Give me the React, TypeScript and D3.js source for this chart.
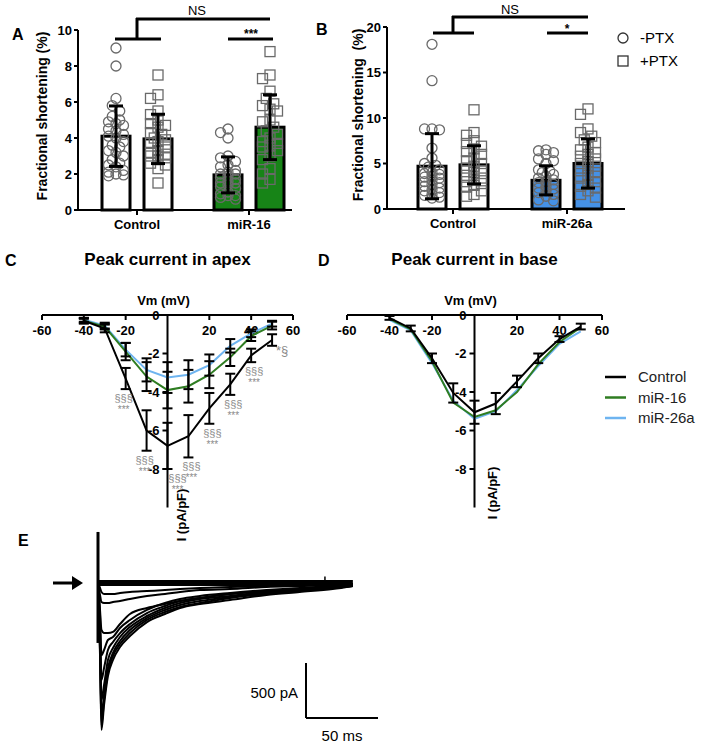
import React from "react";
import * as d3 from "d3";

// ---------------- Panels A / B : fractional shortening ----------------
const groupsA = ["Control", "miR-16"];
const groupsB = ["Control", "miR-26a"];
const ptxKeys = ["-PTX", "+PTX"];
const yTicksA = [0, 2, 4, 6, 8, 10];
const yTicksB = [0, 5, 10, 15, 20];

const meanA = [4.1, 3.95, 1.95, 4.6];
const sdA = [1.68, 1.37, 1.0, 1.8];
const meanB = [4.7, 4.85, 3.15, 5.0];
const sdB = [3.58, 2.1, 1.6, 2.7];

const ptsA_ctrlMinus = [9.0, 8.0, 6.2, 5.8, 5.5, 5.2, 5.0, 4.9, 4.8, 4.7, 4.5, 4.4, 4.2, 4.1, 4.0, 3.8, 3.6, 3.5, 3.3, 3.2, 3.0, 2.8, 2.6, 2.5, 2.4, 2.2, 2.1, 2.0, 1.9, 1.95];
const ptsA_ctrlPlus = [7.5, 6.4, 6.2, 5.5, 5.3, 5.0, 4.8, 4.7, 4.6, 4.3, 4.2, 4.0, 3.9, 3.8, 3.7, 3.5, 3.3, 3.2, 3.1, 3.0, 3.0, 2.9, 2.8, 2.6, 2.5, 2.3, 1.5];
const ptsA_mirMinus = [4.5, 4.3, 4.0, 3.0, 2.9, 2.7, 2.5, 2.4, 2.2, 2.1, 2.0, 2.0, 1.9, 1.8, 1.7, 1.6, 1.5, 1.5, 1.4, 1.3, 1.2, 1.0, 0.9, 0.8, 0.8, 0.7, 0.6];
const ptsA_mirPlus = [8.8, 7.5, 7.3, 6.6, 6.2, 5.9, 5.8, 5.6, 5.5, 5.0, 4.9, 4.6, 4.4, 4.2, 4.0, 3.8, 3.7, 3.6, 3.5, 3.3, 3.0, 2.8, 2.3, 2.0, 1.7, 1.5];

const ptsB_ctrlMinus = [18.1, 14.1, 8.8, 8.8, 8.7, 6.7, 5.6, 5.0, 4.8, 4.6, 4.3, 4.0, 3.9, 3.8, 3.6, 3.5, 3.4, 3.2, 3.0, 2.9, 2.7, 2.5, 2.3, 2.1, 2.0, 1.8, 1.6, 1.5, 1.3, 1.2];
const ptsB_ctrlPlus = [10.9, 8.4, 8.1, 7.5, 7.2, 6.9, 6.6, 6.3, 6.0, 5.6, 5.3, 5.0, 4.7, 4.5, 4.2, 4.0, 3.7, 3.4, 3.2, 3.0, 2.8, 2.6, 2.4, 2.0, 1.6, 1.4];
const ptsB_mirMinus = [6.5, 6.4, 6.2, 6.0, 5.5, 5.3, 5.0, 4.3, 4.2, 4.0, 3.8, 3.6, 3.4, 3.2, 3.0, 2.9, 2.7, 2.5, 2.3, 2.2, 2.0, 1.8, 1.6, 1.4, 1.0, 0.9];
const ptsB_mirPlus = [11.0, 10.4, 8.8, 8.4, 8.0, 7.6, 7.3, 6.8, 6.5, 6.2, 6.0, 5.8, 5.5, 5.2, 5.0, 4.7, 4.5, 4.2, 4.0, 3.7, 3.4, 3.0, 2.7, 2.5, 2.3, 2.0, 1.6, 1.3];

// ---------------- Panels C / D : I-V curves ----------------
const vmSteps = [-40, -30, -20, -10, 0, 10, 20, 30, 40, 50];
const ivXTicks = [-60, -40, -20, 20, 40, 60];
const ivYTicks = [0, -2, -4, -6, -8];
const ivSeries = ["Control", "miR-16", "miR-26a"];

const apexControl = [-0.3, -0.7, -3.3, -6.0, -6.8, -6.3, -4.85, -3.6, -2.1, -1.3];
const apexControlErr = [0.15, 0.2, 0.55, 1.05, 1.2, 1.1, 0.8, 0.55, 0.35, 0.3];
const apexMiR16 = [-0.3, -0.6, -1.9, -3.2, -3.9, -3.7, -3.1, -2.2, -1.1, -0.55];
const apexMiR16Err = [0.1, 0.15, 0.45, 0.75, 0.95, 0.85, 0.7, 0.45, 0.25, 0.2];
const apexMiR26a = [-0.25, -0.55, -1.8, -2.85, -3.25, -3.1, -2.6, -1.6, -0.95, -0.45];
const apexMiR26aErr = [0.1, 0.15, 0.35, 0.6, 0.8, 0.75, 0.55, 0.35, 0.2, 0.15];
const apexSigTop = ["", "", "§§§", "§§§", "§§§", "§§§", "§§§", "§§§", "§§§", "*§"];
const apexSigBottom = ["", "", "***", "***", "***", "***", "***", "***", "***", ""];

const baseControl = [-0.15, -0.7, -2.25, -4.05, -5.05, -4.6, -3.45, -2.25, -1.25, -0.6];
const baseControlErr = [0.1, 0.15, 0.25, 0.5, 0.6, 0.55, 0.3, 0.25, 0.15, 0.15];
const baseMiR16 = [-0.2, -0.75, -2.4, -4.55, -5.3, -4.95, -4.0, -2.55, -1.4, -0.65];
const baseMiR26a = [-0.25, -0.8, -2.5, -4.45, -5.4, -5.0, -3.9, -2.65, -1.5, -0.85];

// ---------------- Panel E : current traces ----------------
const traceTimesMs = [0, 1.4, 2.4, 4.2, 6.9, 10.4, 15.3, 22.2, 34, 46.5, 57, 70.8, 91.7, 117, 140, 163, 177];
const traceS1 = [0, -45, -82, -100, -100, -100, -91, -82, -73, -64, -55, -45, -36, -27, -18, -9, -9];
const traceS2 = [0, -109, -173, -182, -182, -173, -164, -145, -118, -100, -82, -64, -55, -36, -27, -18, -9];
const traceS3 = [0, -245, -427, -455, -455, -445, -373, -282, -227, -191, -164, -136, -100, -73, -55, -36, -18];
const traceD1 = [0, -291, -655, -609, -518, -491, -409, -336, -245, -182, -145, -118, -91, -64, -45, -27, -18];
const traceD2 = [0, -382, -882, -773, -609, -536, -455, -373, -273, -209, -164, -136, -100, -73, -55, -36, -18];
const traceD3 = [0, -473, -1064, -927, -700, -591, -491, -400, -300, -227, -182, -145, -118, -82, -64, -36, -18];
const traceD4 = [0, -564, -1200, -1018, -773, -636, -527, -427, -318, -245, -200, -164, -127, -91, -64, -45, -27];
const traceD5 = [0, -609, -1291, -1064, -809, -664, -555, -455, -336, -264, -218, -182, -136, -100, -73, -45, -27];
const traceD6 = [0, -655, -1336, -1109, -845, -700, -582, -482, -355, -282, -227, -191, -155, -109, -82, -55, -27];
const transientPA = [464, -545];
const artifactMs = 157.6;
const artifactPA = [60, -55];
const scaleBarPA = 500;
const scaleBarMs = 50;

const FONT = "'Liberation Sans', Arial, Helvetica, sans-serif";
const GREEN_BAR = "#178417";
const BLUE_BAR = "#4591e6";
const GREEN_LINE = "#2f7d22";
const BLUE_LINE = "#6eb4f0";
const DOT_STROKE = "#6a6a6a";
const SIG_GRAY = "#8a8a8a";

function swarmOffsets(values: number[], y: (v: number) => number, r: number, maxOff: number) {
  const order = values.map((v, i) => ({ v, i })).sort((a, b) => b.v - a.v);
  const placed: { x: number; y: number }[] = [];
  const res: number[] = new Array(values.length).fill(0);
  const cands = [0, -1, 1, -2, 2, -3, 3, -4, 4].map((k) => k * r * 0.75).filter((c) => Math.abs(c) <= maxOff);
  const minD = 2 * r * 0.75;
  for (const { v, i } of order) {
    const py = y(v);
    let best = 0;
    let bestOv = Infinity;
    for (const c of cands) {
      let ov = 0;
      for (const p of placed) {
        const d = Math.hypot(p.x - c, p.y - py);
        if (d < minD) ov += minD - d;
      }
      if (ov < bestOv - 1e-6) {
        bestOv = ov;
        best = c;
      }
      if (ov === 0) break;
    }
    placed.push({ x: best, y: py });
    res[i] = best;
  }
  return res;
}

type BarCfg = {
  groups: string[];
  yDomain: [number, number];
  yRange: [number, number];
  yTicks: number[];
  groupRange: [number, number];
  axisX: number;
  axisEnd: number;
  means: number[];
  sds: number[];
  points: number[][];
  fills: string[];
  yLabel: string;
  yLabelX: number;
  yLabelY: number;
  tickLabelEnd: number;
};

function BarPanel({ cfg }: { cfg: BarCfg }) {
  const y = d3.scaleLinear().domain(cfg.yDomain).range(cfg.yRange);
  const gx = d3.scalePoint<string>().domain(cfg.groups).range(cfg.groupRange);
  const px = d3.scaleBand<string>().domain(ptxKeys).range([-35, 35]).paddingInner(1 / 3);
  const bw = px.bandwidth();
  const y0 = y(0);
  const r = 5;
  const bars: { cx: number; i: number; g: string; k: string }[] = [];
  cfg.groups.forEach((g, gi) =>
    ptxKeys.forEach((k, ki) => {
      const i = gi * 2 + ki;
      bars.push({ cx: (gx(g) as number) + (px(k) as number) + bw / 2, i, g, k });
    })
  );
  return (
    <g fontFamily={FONT}>
      {bars.map((b) => {
        const top = y(cfg.means[b.i]);
        const offs = swarmOffsets(cfg.points[b.i], y, r, 11);
        const isSquare = b.k === "+PTX";
        return (
          <g key={b.i}>
            <rect x={b.cx - bw / 2} y={top} width={bw} height={y0 - top} fill={cfg.fills[b.i]} stroke="#000" strokeWidth={3} />
            {cfg.points[b.i].map((v, j) =>
              isSquare ? (
                <rect key={j} x={b.cx + offs[j] - r} y={y(v) - r} width={2 * r} height={2 * r} fill="none" stroke={DOT_STROKE} strokeWidth={1.3} />
              ) : (
                <circle key={j} cx={b.cx + offs[j]} cy={y(v)} r={r} fill="none" stroke={DOT_STROKE} strokeWidth={1.3} />
              )
            )}
            <g stroke="#000" strokeWidth={3}>
              <line x1={b.cx} x2={b.cx} y1={y(cfg.means[b.i] - cfg.sds[b.i])} y2={y(cfg.means[b.i] + cfg.sds[b.i])} />
              <line x1={b.cx - 7} x2={b.cx + 7} y1={y(cfg.means[b.i] + cfg.sds[b.i])} y2={y(cfg.means[b.i] + cfg.sds[b.i])} />
              <line x1={b.cx - 7} x2={b.cx + 7} y1={y(cfg.means[b.i] - cfg.sds[b.i])} y2={y(cfg.means[b.i] - cfg.sds[b.i])} />
            </g>
          </g>
        );
      })}
      {/* axes */}
      <line x1={cfg.axisX} x2={cfg.axisX} y1={y0 + 1} y2={y(cfg.yDomain[1])} stroke="#000" strokeWidth={2} />
      <line x1={cfg.axisX} x2={cfg.axisEnd} y1={y0} y2={y0} stroke="#000" strokeWidth={2} />
      {cfg.yTicks.map((t) => (
        <g key={t}>
          <line x1={cfg.axisX - 4} x2={cfg.axisX} y1={y(t)} y2={y(t)} stroke="#000" strokeWidth={2} />
          <text x={cfg.tickLabelEnd} y={y(t)} dy="0.36em" textAnchor="end" fontSize={13} fontWeight="bold">
            {t}
          </text>
        </g>
      ))}
      {cfg.groups.map((g) => (
        <g key={g}>
          <line x1={gx(g)} x2={gx(g)} y1={y0} y2={y0 + 5} stroke="#000" strokeWidth={2} />
          <text x={gx(g)} y={y0 + 19} textAnchor="middle" fontSize={13} fontWeight="bold">
            {g}
          </text>
        </g>
      ))}
      <text
        transform={`translate(${cfg.yLabelX},${cfg.yLabelY}) rotate(-90)`}
        textAnchor="middle"
        dy="0.35em"
        fontSize={14}
        fontWeight="bold"
        style={{ whiteSpace: "pre" }}
      >
        {cfg.yLabel}
      </text>
    </g>
  );
}

type IVCfg = {
  xRange: [number, number];
  yTop: number;
  series: number[][];
  errs: (number[] | null)[];
  colors: string[];
  title: string;
  titleY: number;
  yLabelCenter: [number, number];
  sigTop?: string[];
  sigBottom?: string[];
};

function IVPanel({ cfg }: { cfg: IVCfg }) {
  const x = d3.scaleLinear().domain([-60, 60]).range(cfg.xRange);
  const y = d3.scaleLinear().domain([0, -10]).range([cfg.yTop, cfg.yTop + 192.5]);
  const line = d3
    .line<number>()
    .x((_, i) => x(vmSteps[i]))
    .y((d) => y(d));
  const x0 = x(0);
  const y0 = y(0);
  return (
    <g fontFamily={FONT}>
      <text x={x0} y={cfg.titleY} textAnchor="middle" fontSize={17} fontWeight="bold">
        {cfg.title}
      </text>
      <text x={x0 - 4} y={y0 - 10} textAnchor="middle" fontSize={13} fontWeight="bold">
        Vm (mV)
      </text>
      {/* x axis */}
      <line x1={x(-60)} x2={x(60)} y1={y0} y2={y0} stroke="#000" strokeWidth={2} />
      {ivXTicks.map((t) => (
        <g key={t}>
          <line x1={x(t)} x2={x(t)} y1={y0} y2={y0 + 5} stroke="#000" strokeWidth={2} />
          <text x={x(t)} y={y0 + 20} textAnchor="middle" fontSize={13} fontWeight="bold">
            {t}
          </text>
        </g>
      ))}
      {/* y axis */}
      <line x1={x0} x2={x0} y1={y0} y2={y(-10)} stroke="#000" strokeWidth={2} />
      {ivYTicks.map((t) => (
        <g key={t}>
          <line x1={x0 - 5} x2={x0} y1={y(t)} y2={y(t)} stroke="#000" strokeWidth={2} />
          <text x={x0 - 8} y={y(t)} dy="0.36em" textAnchor="end" fontSize={13} fontWeight="bold">
            {t}
          </text>
        </g>
      ))}
      <text
        transform={`translate(${cfg.yLabelCenter[0]},${cfg.yLabelCenter[1]}) rotate(-90)`}
        textAnchor="middle"
        dy="0.35em"
        fontSize={13}
        fontWeight="bold"
      >
        I (pA/pF)
      </text>
      {/* lines */}
      {cfg.series
        .map((s, si) => ({ s, si }))
        .reverse()
        .map(({ s, si }) => (
          <path key={si} d={line(s) as string} fill="none" stroke={cfg.colors[si]} strokeWidth={2} />
        ))}
      {/* error bars */}
      {cfg.series.map((s, si) =>
        cfg.errs[si]
          ? s.map((m, i) => {
              const e = (cfg.errs[si] as number[])[i];
              const cx = x(vmSteps[i]);
              return (
                <g key={`${si}-${i}`} stroke="#000" strokeWidth={2}>
                  <line x1={cx} x2={cx} y1={y(m + e)} y2={y(m - e)} />
                  <line x1={cx - 5} x2={cx + 5} y1={y(m + e)} y2={y(m + e)} />
                  <line x1={cx - 5} x2={cx + 5} y1={y(m - e)} y2={y(m - e)} />
                </g>
              );
            })
          : null
      )}
      {/* significance */}
      {cfg.sigTop &&
        cfg.sigTop.map((lab, i) => {
          if (!lab) return null;
          const m = cfg.series[0][i];
          const e = (cfg.errs[0] as number[])[i];
          const vm = vmSteps[i];
          const dx = vm === 0 ? 10 : vm < 0 ? -2 : 3;
          const by = y(m - e);
          if (lab === "*§") {
            return (
              <text key={i} x={x(vm) + 10} y={by + 9} textAnchor="middle" fontSize={13} fill={SIG_GRAY}>
                {lab}
              </text>
            );
          }
          return (
            <g key={i} fill={SIG_GRAY} textAnchor="middle">
              <text x={x(vm) + dx} y={by + 13} fontSize={11}>
                {lab}
              </text>
              <text x={x(vm) + dx} y={by + 24} fontSize={10}>
                {cfg.sigBottom ? cfg.sigBottom[i] : ""}
              </text>
            </g>
          );
        })}
    </g>
  );
}

function TracePanel() {
  const xE = d3.scaleLinear().domain([0, scaleBarMs]).range([98, 170]);
  const yE = d3.scaleLinear().domain([0, -scaleBarPA]).range([583, 638]);
  const line = d3
    .line<number>()
    .x((_, i) => xE(traceTimesMs[i]))
    .y((d) => yE(d))
    .curve(d3.curveMonotoneX);
  const traces = [traceS1, traceS2, traceS3, traceD1, traceD2, traceD3, traceD4, traceD5, traceD6];
  const sbX = 306;
  const sbY = 718;
  return (
    <g fontFamily={FONT}>
      {/* arrow */}
      <line x1={53} x2={74} y1={583} y2={583} stroke="#000" strokeWidth={3} />
      <path d="M72,576 L83,583 L72,590 Z" fill="#000" />
      {/* baseline band */}
      <line x1={xE(0)} x2={xE(traceTimesMs[traceTimesMs.length - 1])} y1={yE(0)} y2={yE(0)} stroke="#000" strokeWidth={6} />
      {traces.map((t, i) => (
        <path key={i} d={line(t) as string} fill="none" stroke="#000" strokeWidth={2} strokeLinejoin="round" />
      ))}
      <line x1={xE(0)} x2={xE(0)} y1={yE(transientPA[0])} y2={yE(transientPA[1])} stroke="#000" strokeWidth={3} />
      <line x1={xE(artifactMs)} x2={xE(artifactMs)} y1={yE(artifactPA[0])} y2={yE(artifactPA[1])} stroke="#000" strokeWidth={1.5} />
      {/* scale bar */}
      <line x1={sbX} x2={sbX} y1={sbY} y2={sbY - (yE(-scaleBarPA) - yE(0))} stroke="#000" strokeWidth={2} />
      <line x1={sbX} x2={sbX + (xE(scaleBarMs) - xE(0))} y1={sbY} y2={sbY} stroke="#000" strokeWidth={2} />
      <text x={sbX - 8} y={698} textAnchor="end" fontSize={15}>
        {scaleBarPA} pA
      </text>
      <text x={sbX + 36} y={741} textAnchor="middle" fontSize={15}>
        {scaleBarMs} ms
      </text>
    </g>
  );
}

export default function App() {
  const cfgA: BarCfg = {
    groups: groupsA,
    yDomain: [0, 10],
    yRange: [210, 30],
    yTicks: yTicksA,
    groupRange: [137, 249],
    axisX: 78,
    axisEnd: 292,
    means: meanA,
    sds: sdA,
    points: [ptsA_ctrlMinus, ptsA_ctrlPlus, ptsA_mirMinus, ptsA_mirPlus],
    fills: ["#ffffff", "#ffffff", GREEN_BAR, GREEN_BAR],
    yLabel: "Fractional shortening (%)",
    yLabelX: 42,
    yLabelY: 116,
    tickLabelEnd: 72,
  };
  const cfgB: BarCfg = {
    groups: groupsB,
    yDomain: [0, 20],
    yRange: [209, 27],
    yTicks: yTicksB,
    groupRange: [453, 567],
    axisX: 387,
    axisEnd: 625,
    means: meanB,
    sds: sdB,
    points: [ptsB_ctrlMinus, ptsB_ctrlPlus, ptsB_mirMinus, ptsB_mirPlus],
    fills: ["#ffffff", "#ffffff", BLUE_BAR, BLUE_BAR],
    yLabel: "Fractional shortening  (%)",
    yLabelX: 358,
    yLabelY: 115,
    tickLabelEnd: 381,
  };
  const cfgC: IVCfg = {
    xRange: [42, 293],
    yTop: 315,
    series: [apexControl, apexMiR16, apexMiR26a],
    errs: [apexControlErr, apexMiR16Err, apexMiR26aErr],
    colors: ["#000", GREEN_LINE, BLUE_LINE],
    title: "Peak current in apex",
    titleY: 265,
    yLabelCenter: [181, 515],
    sigTop: apexSigTop,
    sigBottom: apexSigBottom,
  };
  const cfgD: IVCfg = {
    xRange: [347, 602],
    yTop: 315,
    series: [baseControl, baseMiR16, baseMiR26a],
    errs: [baseControlErr, null, null],
    colors: ["#000", GREEN_LINE, BLUE_LINE],
    title: "Peak current in base",
    titleY: 265,
    yLabelCenter: [492, 493],
  };
  const legendColors = ["#000", GREEN_LINE, BLUE_LINE];
  return (
    <svg
      width={701}
      height={743}
      style={{ position: "absolute", left: 0, top: 0, background: "#fff" }}
      fontFamily={FONT}
    >
      <rect width={701} height={743} fill="#fff" />
      {/* panel letters */}
      <g fontSize={16} fontWeight="bold">
        <text x={12} y={40}>A</text>
        <text x={316} y={35}>B</text>
        <text x={5} y={266}>C</text>
        <text x={318} y={266}>D</text>
        <text x={18} y={546}>E</text>
      </g>
      {/* significance brackets */}
      <g stroke="#000" strokeWidth={3}>
        <line x1={136} x2={270} y1={19} y2={19} />
        <line x1={137} x2={137} y1={18} y2={39} />
        <line x1={115} x2={161} y1={39} y2={39} />
        <line x1={228} x2={273} y1={39} y2={39} />
        <line x1={452} x2={588} y1={17} y2={17} />
        <line x1={453} x2={453} y1={16} y2={33} />
        <line x1={433} x2={474} y1={33} y2={33} />
        <line x1={547} x2={588} y1={33} y2={33} />
      </g>
      <g fontFamily={FONT} textAnchor="middle">
        <text x={197} y={15} fontSize={13}>NS</text>
        <text x={251} y={38} fontSize={12} fontWeight="bold">***</text>
        <text x={510} y={14} fontSize={13}>NS</text>
        <text x={567} y={33} fontSize={12} fontWeight="bold">*</text>
      </g>
      <BarPanel cfg={cfgA} />
      <BarPanel cfg={cfgB} />
      {/* legend B */}
      <g fontFamily={FONT} fontSize={15}>
        <circle cx={623} cy={38} r={5} fill="none" stroke="#333" strokeWidth={1.3} />
        <text x={640} y={43}>{ptxKeys[0]}</text>
        <rect x={618} y={56} width={10} height={10} fill="none" stroke="#333" strokeWidth={1.3} />
        <text x={640} y={66}>{ptxKeys[1]}</text>
      </g>
      <IVPanel cfg={cfgC} />
      <IVPanel cfg={cfgD} />
      {/* legend D */}
      <g fontFamily={FONT} fontSize={15}>
        {ivSeries.map((s, i) => (
          <g key={s}>
            <line x1={605} x2={626} y1={377 + i * 20.5} y2={377 + i * 20.5} stroke={legendColors[i]} strokeWidth={2.5} />
            <text x={638} y={382 + i * 20.5} fill="#222">{s}</text>
          </g>
        ))}
      </g>
      <TracePanel />
    </svg>
  );
}
